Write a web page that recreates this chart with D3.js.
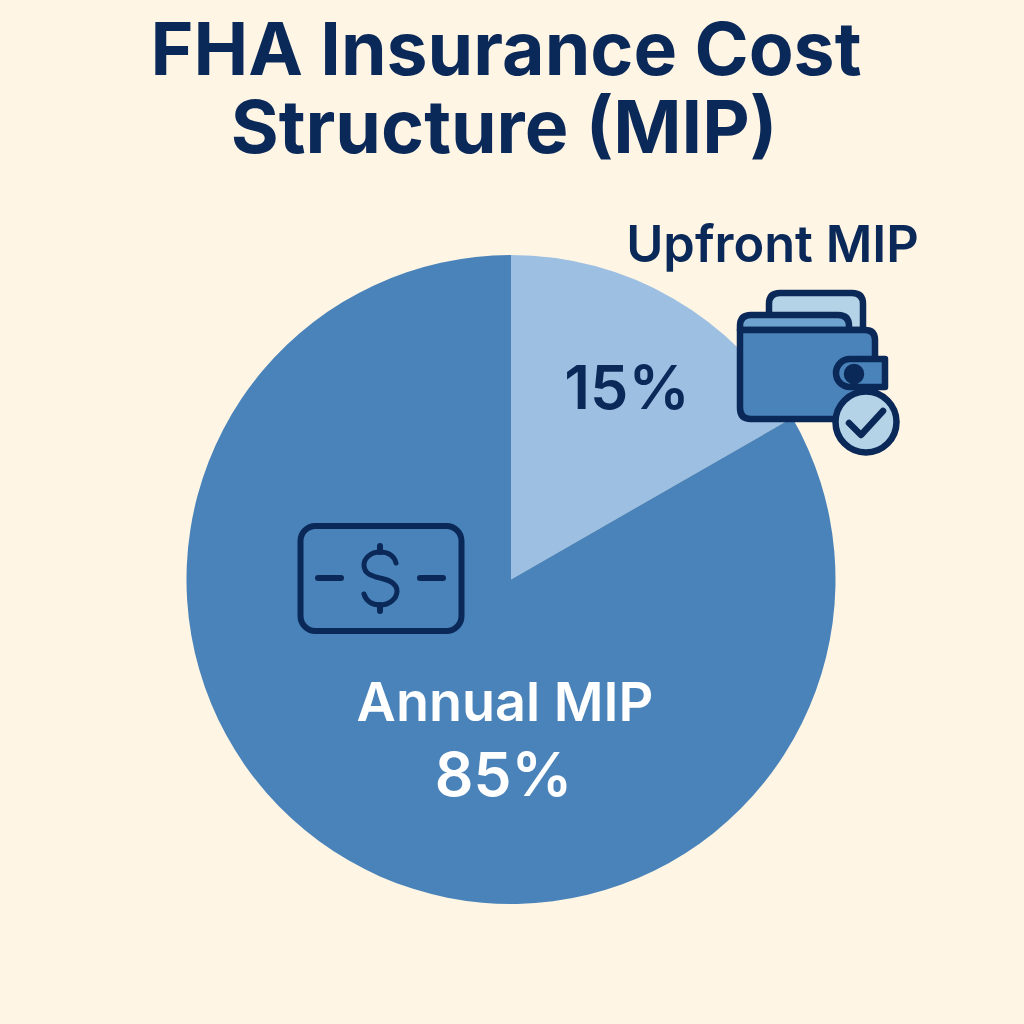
<!DOCTYPE html>
<html>
<head>
<meta charset="utf-8">
<script src="https://cdn.jsdelivr.net/npm/d3@7"></script>
<style>
  html, body { margin: 0; background: #fef5e5; }
  text { font-family: Inter, sans-serif; }
</style>
</head>
<body>
<div id="chart"></div>
<script>
const titleLines = ['FHA Insurance Cost', 'Structure (MIP)']
const categories = ['Upfront MIP', 'Annual MIP']
const sliceLabels = ['15%', '85%']
// slice sizes as drawn in the picture, the upfront wedge spans about 60 degrees
const sliceValues = [16.7, 83.3]
const sliceColors = ['#9cbfe2', '#4a83b9']

const navy = '#0a2858'

const dms = { width: 1024, height: 1024, cx: 511, cy: 579.5, radius: 324.5 }

const svg = d3.select('#chart').append('svg')
    .attr('width', dms.width)
    .attr('height', dms.height)
    .style('display', 'block')

svg.append('rect')
    .attr('width', dms.width)
    .attr('height', dms.height)
    .attr('fill', '#fef5e5')

// title
svg.selectAll('.title')
    .data(titleLines)
    .join('text')
    .attr('class', 'title')
    .attr('x', (d, i) => i === 0 ? 506 : 504)
    .attr('y', (d, i) => 75 + i * 78)
    .attr('text-anchor', 'middle')
    .attr('font-size', 73.3)
    .attr('font-weight', 700)
    .attr('fill', navy)
    .text(d => d)

// pie
const pie = d3.pie().sort(null)
const arc = d3.arc().innerRadius(0).outerRadius(dms.radius)

const slices = svg.append('g')
    .attr('transform', `translate(${dms.cx},${dms.cy})`)

slices.selectAll('path')
    .data(pie(sliceValues))
    .join('path')
    .attr('d', arc)
    .attr('fill', (d, i) => sliceColors[i])

// labels
function label(txt, x, y, size, color) {
    svg.append('text')
        .attr('x', x)
        .attr('y', y)
        .attr('text-anchor', 'middle')
        .attr('font-size', size)
        .attr('font-weight', 600)
        .attr('fill', color)
        .text(txt)
}

label(categories[0], 772.5, 262, 50.5, navy)
label(sliceLabels[0], 627, 409, 61, navy)
label(categories[1], 505, 721, 54, '#fff')
label(sliceLabels[1], 503.5, 796, 60.5, '#fff')

// wallet icon
const wallet = svg.append('g')
    .attr('stroke', navy)
    .attr('stroke-width', 6.5)
    .attr('stroke-linejoin', 'round')
    .attr('stroke-linecap', 'round')

wallet.append('path')
    .attr('d', 'M769,330 V304 Q769,293 780,293 H852 Q863,293 863,304 V330 Z')
    .attr('fill', '#b5d3e6')
wallet.append('path')
    .attr('d', 'M740,330 V326 Q740,315 751,315 H838 Q849,315 849,326 V330 Z')
    .attr('fill', '#6fa3cf')
wallet.append('path')
    .attr('d', 'M740,330 H865 Q875,330 875,340 V408 Q875,419 865,419 H751 Q740,419 740,408 Z')
    .attr('fill', '#4a83b9')
wallet.append('path')
    .attr('d', 'M850,359 H885 V387 H850 A14,14 0 0 1 850,359 Z')
    .attr('fill', '#4a83b9')
wallet.append('circle')
    .attr('cx', 854).attr('cy', 374).attr('r', 7)
    .attr('fill', navy)
wallet.append('circle')
    .attr('cx', 866).attr('cy', 422).attr('r', 30.5)
    .attr('fill', '#b5d3e6')
wallet.append('path')
    .attr('d', 'M849,423 L861,435 L883,411')
    .attr('fill', 'none')

// dollar note icon
const note = svg.append('g')
    .attr('stroke', navy)
    .attr('stroke-width', 6)
    .attr('stroke-linecap', 'round')
    .attr('fill', 'none')

note.append('rect')
    .attr('x', 300.5).attr('y', 526)
    .attr('width', 161).attr('height', 105)
    .attr('rx', 15)
note.append('path').attr('d', 'M318,578 H341')
note.append('path').attr('d', 'M420,578 H443')
note.append('path').attr('d', 'M380,546 V552')
note.append('path').attr('d', 'M380,605 V611')
note.append('path')
    .attr('stroke-width', 5)
    .attr('d', 'M396,563 C394,555 387,552 380,552 C371,552 364,558 364,565 C364,574 372,576 380,578 C389,580 397,583 397,591 C397,599 389,605 380,605 C372,605 366,601 364,594')
</script>
</body>
</html>
